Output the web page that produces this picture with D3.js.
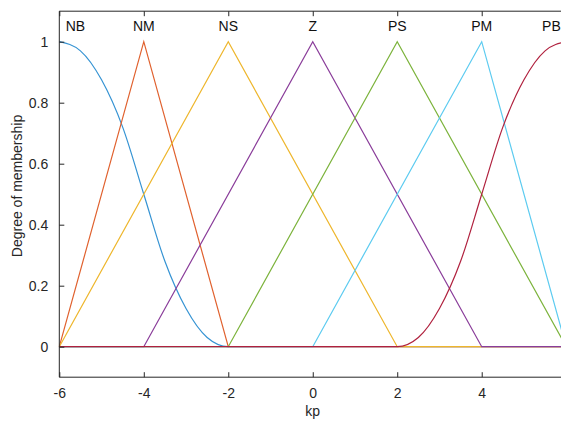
<!DOCTYPE html>
<html><head><meta charset="utf-8">
<script src="https://cdn.jsdelivr.net/npm/d3@7"></script>
<style>body{margin:0;background:#fff;} svg{display:block;} text{font-family:"Liberation Sans",Arial,sans-serif;}</style>
</head><body>
<svg id="c" width="561" height="421"></svg>
<script>
const names = ["NB","NM","NS","Z","PS","PM","PB"];
const colors = ["#3593d3","#e0612e","#eeb62c","#8a3d9a","#7cb33c","#5ccbf0","#b0213e"];
// points (x, membership)
const nbX = [-6,-5.5,-5,-4.5,-4,-3.5,-3,-2.5,-2,6];
const nbY = [1,0.97,0.875,0.72,0.5,0.28,0.125,0.03,0,0];
const nmX = [-6,-4,-2,6];   const nmY = [0,1,0,0];
const nsX = [-6,-2,2,6];    const nsY = [0,1,0,0];
const zX  = [-6,-4,0,4,6];  const zY  = [0,0,1,0,0];
const psX = [-6,-2,2,6];    const psY = [0,0,1,0];
const pmX = [-6,0,4,6];     const pmY = [0,0,1,0];
const pbX = [-6,2,2.5,3,3.5,4,4.5,5,5.5,6];
const pbY = [0,0,0.03,0.125,0.28,0.5,0.72,0.875,0.97,1];
const labelX = [-5.62,-4,-2,0,2,4,5.65];
const xTicks = [-6,-4,-2,0,2,4,6];
const xTickLabels = ["-6","-4","-2","0","2","4",""];
const yTicks = [0,0.2,0.4,0.6,0.8,1];

const svg = d3.select("#c");
const x = d3.scaleLinear().domain([-6,6]).range([59.3,566.2]);
const y = d3.scaleLinear().domain([-0.1,1.1]).range([377.2,11.2]);
const axisColor = "#262626";
const fs = 14;

const series = [[nbX,nbY],[nmX,nmY],[nsX,nsY],[zX,zY],[psX,psY],[pmX,pmY],[pbX,pbY]];
const smooth = [true,false,false,false,false,false,true];
series.forEach((s,i)=>{
  const pts = s[0].map((v,j)=>[v,s[1][j]]);
  const line = d3.line().x(d=>x(d[0])).y(d=>y(d[1]));
  if(smooth[i]) line.curve(d3.curveMonotoneX);
  svg.append("path").attr("d",line(pts)).attr("fill","none")
    .attr("stroke",colors[i]).attr("stroke-width",1.2);
});

names.forEach((n,i)=>{
  svg.append("text").attr("x",x(labelX[i])).attr("y",y(1.05)+5)
    .attr("text-anchor","middle").attr("font-size",fs).attr("fill","#111").text(n);
});

const g = svg.append("g");
g.append("line").attr("x1",x(-6)).attr("x2",x(6)).attr("y1",y(-0.1)).attr("y2",y(-0.1)).attr("stroke",axisColor);
g.append("line").attr("x1",x(-6)).attr("x2",x(6)).attr("y1",y(1.1)).attr("y2",y(1.1)).attr("stroke",axisColor);
g.append("line").attr("x1",x(-6)).attr("x2",x(-6)).attr("y1",y(-0.1)).attr("y2",y(1.1)).attr("stroke",axisColor);

const xb = svg.append("g").attr("transform",`translate(0,${y(-0.1)})`)
  .call(d3.axisBottom(x).tickValues(xTicks).tickSizeInner(-5).tickSizeOuter(0).tickPadding(11)
    .tickFormat((d,i)=>xTickLabels[i]));
const xt = svg.append("g").attr("transform",`translate(0,${y(1.1)})`)
  .call(d3.axisTop(x).tickValues(xTicks).tickSizeInner(-5).tickSizeOuter(0).tickFormat(""));
const yl = svg.append("g").attr("transform",`translate(${x(-6)},0)`)
  .call(d3.axisLeft(y).tickValues(yTicks).tickSizeInner(-5).tickSizeOuter(0).tickPadding(11).tickFormat(d3.format("~g")));
[xb,xt,yl].forEach(a=>{
  a.select(".domain").remove();
  a.selectAll("line").attr("stroke",axisColor);
  a.selectAll("text").attr("font-size",fs).attr("fill",axisColor)
    .attr("font-family","Liberation Sans, Arial, sans-serif");
});

svg.append("text").attr("x",x(0)).attr("y",416).attr("text-anchor","middle")
  .attr("font-size",fs).attr("fill",axisColor).text("kp");
svg.append("text").attr("transform",`translate(22,186) rotate(-90)`)
  .attr("text-anchor","middle").attr("font-size",fs).attr("fill",axisColor).text("Degree of membership");
</script>
</body></html>
